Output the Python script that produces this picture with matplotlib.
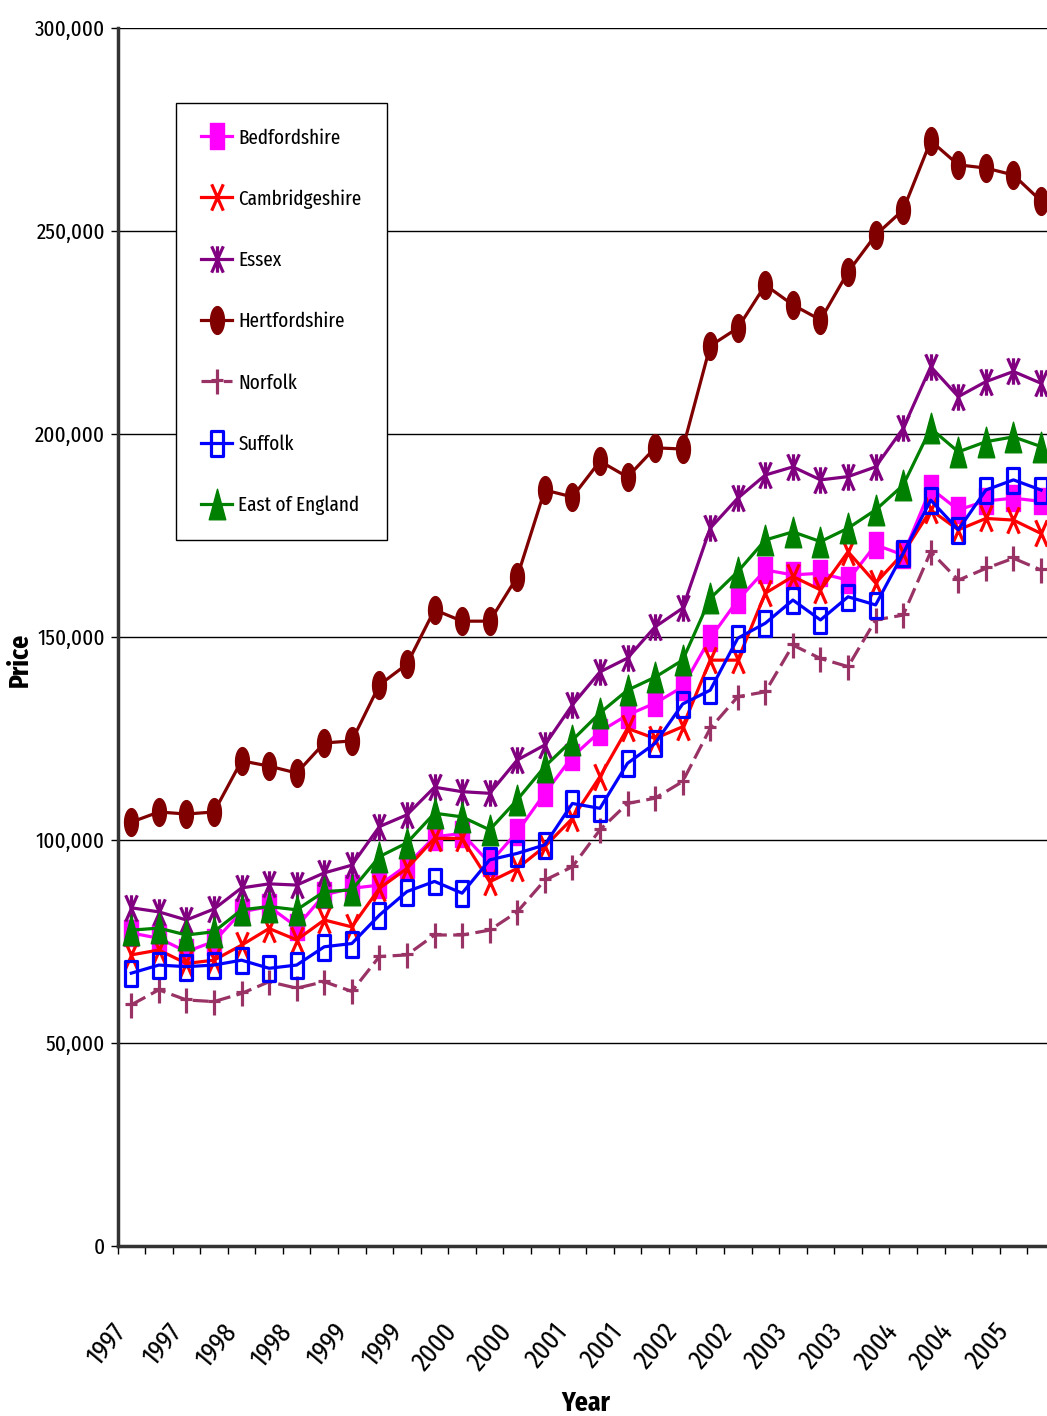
import numpy as np
import matplotlib
matplotlib.use('Agg')
import matplotlib.pyplot as plt
from matplotlib.path import Path
from matplotlib.ticker import FuncFormatter, FixedLocator
from matplotlib.transforms import ScaledTranslation

# narrow face for all text, condensed DejaVu as fallback
plt.rcParams['font.family'] = ['Fira Sans Extra Condensed', 'DejaVu Sans']
plt.rcParams['font.stretch'] = 'condensed'

# quarterly average prices, 1997 Q1 - 2005 Q2 (thousands)
years = ['1997'] * 4 + ['1998'] * 4 + ['1999'] * 4 + ['2000'] * 4 + ['2001'] * 4 + \
        ['2002'] * 4 + ['2003'] * 4 + ['2004'] * 4 + ['2005'] * 2

bedfordshire = [77.1, 75.8, 72.5, 75.0, 82.3, 83.6, 78.6, 86.5, 88.1, 88.9, 93.8, 100.8,
                101.6, 94.3, 102.0, 111.5, 120.5, 126.7, 130.8, 133.7, 137.7, 149.7, 159.1,
                166.5, 165.3, 165.7, 164.0, 172.7, 170.2, 186.6, 181.3, 183.5, 184.2, 183.4]
cambridgeshire = [71.7, 72.9, 69.6, 70.4, 74.1, 78.2, 75.4, 80.3, 78.6, 88.1, 93.0, 100.4,
                  100.4, 89.7, 93.0, 98.4, 105.3, 115.6, 127.5, 125.0, 127.9, 144.3, 144.3,
                  160.8, 164.9, 161.6, 171.0, 163.3, 170.6, 181.3, 176.4, 179.2, 178.8, 175.5]
essex = [83.3, 82.3, 80.3, 83.0, 88.2, 89.2, 88.9, 91.9, 93.8, 103.3, 106.2, 113.0,
         111.9, 111.5, 119.7, 123.4, 133.3, 141.4, 144.8, 152.5, 157.1, 176.8, 184.2,
         189.9, 191.9, 188.7, 189.5, 191.9, 201.4, 216.6, 209.2, 212.9, 215.4, 212.5]
hertfordshire = [104.4, 106.9, 106.4, 106.9, 119.5, 118.2, 116.5, 123.9, 124.4, 138.2, 143.3,
                 156.7, 153.9, 153.9, 164.8, 186.2, 184.5, 193.3, 189.4, 196.6, 196.3, 221.7,
                 226.1, 236.7, 231.8, 228.1, 239.9, 249.0, 255.2, 272.2, 266.3, 265.5, 263.8, 257.4]
norfolk = [59.4, 63.1, 60.6, 60.2, 62.2, 65.1, 63.5, 65.1, 62.7, 71.3, 71.7, 76.6,
           76.6, 77.8, 82.3, 90.1, 93.4, 102.5, 109.0, 110.3, 114.4, 127.5, 135.3,
           136.5, 148.0, 144.7, 142.7, 154.2, 155.4, 171.0, 164.0, 166.9, 169.4, 166.5]
suffolk = [67.2, 69.2, 68.8, 69.2, 70.4, 68.4, 69.2, 73.7, 74.5, 81.5, 87.3, 89.8,
           86.9, 95.1, 96.7, 98.8, 109.0, 107.8, 118.9, 123.8, 133.5, 136.9, 149.7,
           153.4, 159.1, 154.2, 159.9, 157.9, 170.6, 183.7, 176.4, 186.2, 188.7, 186.2]
east_of_england = [77.8, 78.3, 76.6, 77.4, 82.8, 83.6, 82.8, 87.3, 87.7, 95.9, 99.3, 106.6,
                   105.7, 102.5, 109.9, 118.1, 124.6, 131.3, 136.9, 140.1, 144.3, 159.5, 166.1,
                   173.9, 175.9, 173.5, 176.8, 181.3, 187.4, 201.4, 195.6, 198.1, 199.3, 196.9]

names = ['Bedfordshire', 'Cambridgeshire', 'Essex', 'Hertfordshire', 'Norfolk', 'Suffolk',
         'East of England']
series = [bedfordshire, cambridgeshire, essex, hertfordshire, norfolk, suffolk, east_of_england]

# tall, narrow marker shapes
w = 0.25
rect = Path([(-w, -0.5), (w, -0.5), (w, 0.5), (-w, 0.5), (-w, -0.5)], closed=True)
t = np.linspace(0, 2 * np.pi, 40)
ellipse = Path(np.column_stack([w * np.cos(t), 0.5 * np.sin(t)]), closed=True)
tri = Path([(0, 0.5), (0.27, -0.5), (-0.27, -0.5), (0, 0.5)], closed=True)
xmark = Path([(-0.22, -0.5), (0.22, 0.5), (-0.22, 0.5), (0.22, -0.5)],
             [Path.MOVETO, Path.LINETO, Path.MOVETO, Path.LINETO])
star = Path([(-0.22, -0.5), (0.22, 0.5), (-0.22, 0.5), (0.22, -0.5), (0, -0.5), (0, 0.5)],
            [Path.MOVETO, Path.LINETO, Path.MOVETO, Path.LINETO, Path.MOVETO, Path.LINETO])
plus = Path([(0, -0.5), (0, 0.5), (-0.24, 0.05), (0.24, 0.05)],
            [Path.MOVETO, Path.LINETO, Path.MOVETO, Path.LINETO])

styles = [
    dict(color='#FF00FF', marker=rect, mfc='#FF00FF', mew=1, ms=19),
    dict(color='#FF0000', marker=xmark, mfc='none', mew=2.3, ms=19),
    dict(color='#800080', marker=star, mfc='none', mew=2.3, ms=19),
    dict(color='#800000', marker=ellipse, mfc='#800000', mew=1, ms=20),
    dict(color='#993366', marker=plus, mfc='none', mew=2.3, ms=18, ls=(0, (5, 2))),
    dict(color='#0000FF', marker=rect, mfc='none', mew=2.3, ms=18),
    dict(color='#008000', marker=tri, mfc='#008000', mew=1, ms=22),
]

fig = plt.figure(figsize=(10.47, 14.16), dpi=100)
ax = fig.add_axes([117.5 / 1047, 170 / 1416, 937.3 / 1047, 1218 / 1416])

x = np.arange(len(years))
for name, vals, st in zip(names, series, styles):
    ax.plot(x, np.array(vals) * 1000, lw=2.3, label=name, **st)

ax.set_xlim(-0.5, len(years) - 0.5)
ax.set_ylim(0, 300000)
ax.set_yticks(np.arange(0, 300001, 50000))
ax.yaxis.set_major_formatter(FuncFormatter(lambda v, p: f'{int(v):,}'))
ax.grid(axis='y', color='black', lw=1)
ax.set_axisbelow(True)

ax.xaxis.set_major_locator(FixedLocator(x[::2]))
ax.set_xticklabels(years[::2], rotation=50, ha='right', va='top', rotation_mode='anchor')
ax.xaxis.set_minor_locator(FixedLocator(np.arange(-0.5, len(years), 1)))
ax.tick_params(axis='x', which='major', length=0, pad=52, labelsize=20)
ax.tick_params(axis='x', which='minor', length=6, width=1, direction='out')
ax.tick_params(axis='y', length=5, width=1, pad=4, labelsize=16.5)
shift = ScaledTranslation(-20 / 100, 0, fig.dpi_scale_trans)
for lab in ax.get_xticklabels():
    lab.set_transform(lab.get_transform() + shift)

for s in ['top', 'right']:
    ax.spines[s].set_visible(False)
for s in ['left', 'bottom']:
    ax.spines[s].set_linewidth(2.5)
    ax.spines[s].set_color('#333333')

fig.text(20 / 1047, 1 - 660 / 1416, 'Price', rotation=90, ha='center', va='center',
         fontsize=20, fontweight='bold')
fig.text(586 / 1047, 1 - 1403 / 1416, 'Year', ha='center', va='center',
         fontsize=20, fontweight='bold')

leg = ax.legend(loc='upper left', bbox_to_anchor=(176 / 1047, 1 - 103 / 1416),
                bbox_transform=fig.transFigure, fontsize=15, frameon=True, fancybox=False,
                edgecolor='black', framealpha=1, borderaxespad=0, labelspacing=2.0,
                handlelength=1.5, handletextpad=0.3, borderpad=1.2)
leg.get_frame().set_linewidth(1)

fig.savefig('out.png', dpi=100)
